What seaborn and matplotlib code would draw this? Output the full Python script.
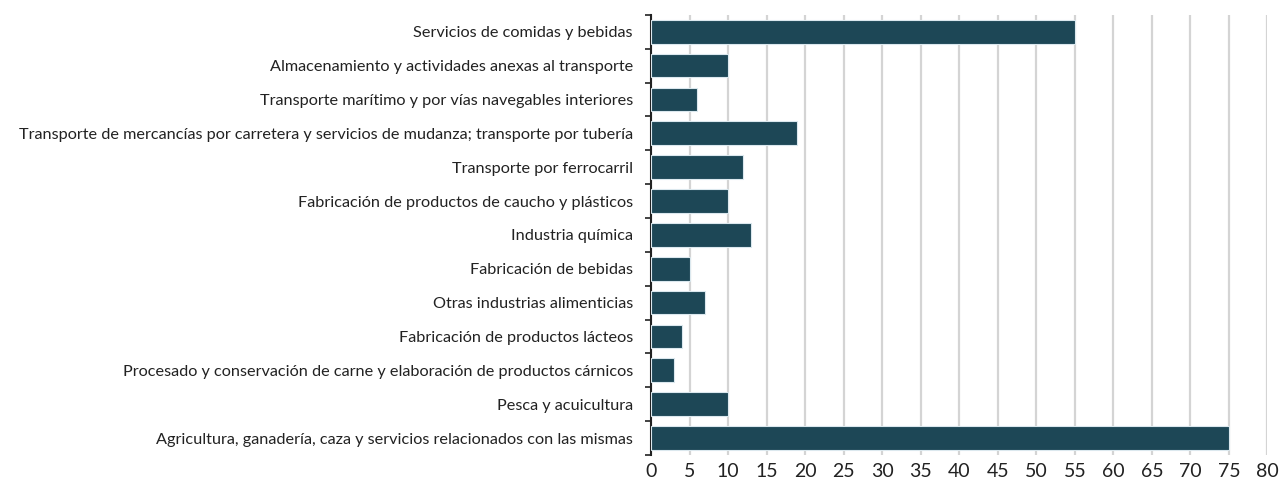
import matplotlib
matplotlib.use("Agg")
import matplotlib.pyplot as plt
import seaborn as sns
import pandas as pd
import numpy as np

categories = [
    "Servicios de comidas y bebidas",
    "Almacenamiento y actividades anexas al transporte",
    "Transporte marítimo y por vías navegables interiores",
    "Transporte de mercancías por carretera y servicios de mudanza; transporte por tubería",
    "Transporte por ferrocarril",
    "Fabricación de productos de caucho y plásticos",
    "Industria química",
    "Fabricación de bebidas",
    "Otras industrias alimenticias",
    "Fabricación de productos lácteos",
    "Procesado y conservación de carne y elaboración de productos cárnicos",
    "Pesca y acuicultura",
    "Agricultura, ganadería, caza y servicios relacionados con las mismas",
]
values = [55, 10, 6, 19, 12, 10, 13, 5, 7, 4, 3, 10, 75]
x_ticks = list(range(0, 85, 5))

df = pd.DataFrame({"sector": categories, "valor": values})

sns.set_theme(style="white")
plt.rcParams["font.family"] = ["Lato", "DejaVu Sans"]

fig = plt.figure(figsize=(12.79, 4.94), dpi=100)
ax = fig.add_axes([0.509, 0.079, 0.482, 0.891])

sns.barplot(data=df, x="valor", y="sector", orient="h", color="#1d4756",
            saturation=1, width=0.7, edgecolor="#dbe8ee", linewidth=0.8,
            ax=ax, zorder=3)

ax.set_xlim(0, 80)
ax.set_xticks(x_ticks)
ax.set_xticklabels([str(t) for t in x_ticks], fontsize=14, color="#222222")
ax.grid(axis="x", color="#d4d4d4", linewidth=1.6, zorder=0)
ax.grid(axis="y", visible=False)
ax.set_axisbelow(True)
ax.set_xlabel("")
ax.set_ylabel("")

# category labels at bar centres, short outward ticks at category boundaries
ax.tick_params(axis="y", which="major", length=0, pad=13, labelsize=11.7,
               labelcolor="#222222")
ax.set_yticks(np.arange(-0.5, len(categories) + 0.5, 1.0), minor=True)
ax.tick_params(axis="y", which="minor", length=4, width=1.2, color="#222222",
               direction="out", left=True)
ax.tick_params(axis="x", length=0, pad=6)

for side in ["top", "right", "bottom"]:
    ax.spines[side].set_visible(False)
ax.spines["left"].set_color("#222222")
ax.spines["left"].set_linewidth(1.5)

fig.savefig("out.png", dpi=100)
